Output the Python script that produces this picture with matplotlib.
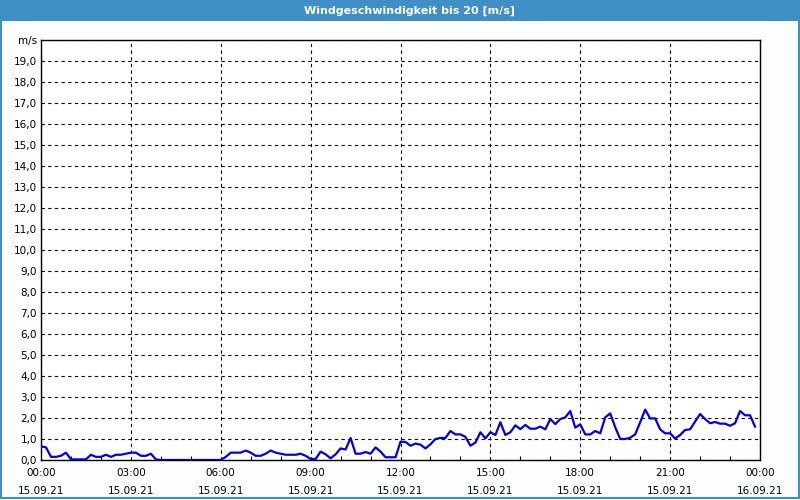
import pandas as pd
import matplotlib
matplotlib.use('Agg')
import matplotlib.pyplot as plt
import matplotlib.dates as mdates
from matplotlib.patches import Rectangle

# wind speed in m/s, one value every 10 minutes from 15.09.21 00:00
wind = [
    0.65, 0.60, 0.15, 0.15, 0.20, 0.35, 0.03, 0.03, 0.03, 0.03, 0.25, 0.15,
    0.15, 0.25, 0.15, 0.25, 0.25, 0.30, 0.35, 0.35, 0.20, 0.20, 0.30, 0.03,
    0.00, 0.00, 0.00, 0.00, 0.00, 0.00, 0.00, 0.00, 0.00, 0.00, 0.00, 0.00,
    0.00, 0.15, 0.35, 0.35, 0.35, 0.45, 0.35, 0.20, 0.20, 0.30, 0.45, 0.35,
    0.30, 0.25, 0.25, 0.25, 0.30, 0.20, 0.05, 0.05, 0.40, 0.27, 0.08, 0.27,
    0.55, 0.50, 1.05, 0.30, 0.30, 0.38, 0.30, 0.60, 0.40, 0.13, 0.13, 0.13,
    0.87, 0.86, 0.68, 0.78, 0.73, 0.55, 0.75, 1.00, 1.05, 1.05, 1.38, 1.22,
    1.22, 1.10, 0.68, 0.83, 1.32, 1.03, 1.32, 1.19, 1.80, 1.19, 1.32, 1.65,
    1.47, 1.67, 1.49, 1.49, 1.59, 1.46, 1.95, 1.71, 1.95, 2.03, 2.33, 1.54,
    1.70, 1.22, 1.22, 1.38, 1.27, 2.03, 2.22, 1.56, 1.00, 1.00, 1.06, 1.22,
    1.80, 2.40, 1.98, 1.98, 1.46, 1.27, 1.27, 1.02, 1.19, 1.43, 1.46, 1.83,
    2.19, 1.95, 1.75, 1.81, 1.73, 1.73, 1.63, 1.75, 2.33, 2.13, 2.13, 1.59,
]
times = pd.date_range('2021-09-15 00:00', periods=len(wind), freq='10min')

y_ticks = list(range(0, 21))
y_labels = [f'{v},0' for v in y_ticks[:-1]] + ['m/s']

blue = '#3d8fc6'

fig = plt.figure(figsize=(8, 5), dpi=100)
fig.patch.set_facecolor('#fcfefd')

# title bar and outer frame
fig.patches.append(Rectangle((0, 1 - 21 / 500), 1, 21 / 500, transform=fig.transFigure,
                             facecolor=blue, edgecolor='none', zorder=0))
fig.patches.append(Rectangle((0.001, 0.004), 0.998, 0.995, transform=fig.transFigure,
                             facecolor='none', edgecolor=blue, linewidth=1.5, zorder=1))
fig.text(410 / 800, 1 - 11 / 500, 'Windgeschwindigkeit bis 20 [m/s]', color='white',
         ha='center', va='center', fontsize=8, fontweight='bold', family='DejaVu Sans')

ax = fig.add_axes([41 / 800, 40 / 500, 719 / 800, 420 / 500])
ax.set_facecolor('white')
ax.plot(times, wind, color='#0000e8', linewidth=1.6, zorder=3)

ax.set_xlim(pd.Timestamp('2021-09-15 00:00'), pd.Timestamp('2021-09-16 00:00'))
ax.set_ylim(0, 20)
ax.set_yticks(y_ticks)
ax.set_yticklabels(y_labels)

ax.xaxis.set_major_locator(mdates.HourLocator(byhour=range(0, 24, 3)))
ax.xaxis.set_minor_locator(mdates.HourLocator())
ax.xaxis.set_major_formatter(mdates.DateFormatter('%H:%M\n%d.%m.%y'))

ax.grid(True, which='major', color='black', linestyle=(0, (3, 3)), linewidth=0.8)
ax.tick_params(axis='y', length=0, pad=3, labelsize=7.5)
ax.tick_params(axis='x', which='major', length=0, pad=6, labelsize=7.5)
ax.tick_params(axis='x', which='minor', direction='in', length=3, width=0.8)
for lbl in ax.get_xticklabels():
    lbl.set_linespacing(1.9)
for s in ax.spines.values():
    s.set_linewidth(1)

plt.savefig('out.png', dpi=100, facecolor=fig.get_facecolor())
